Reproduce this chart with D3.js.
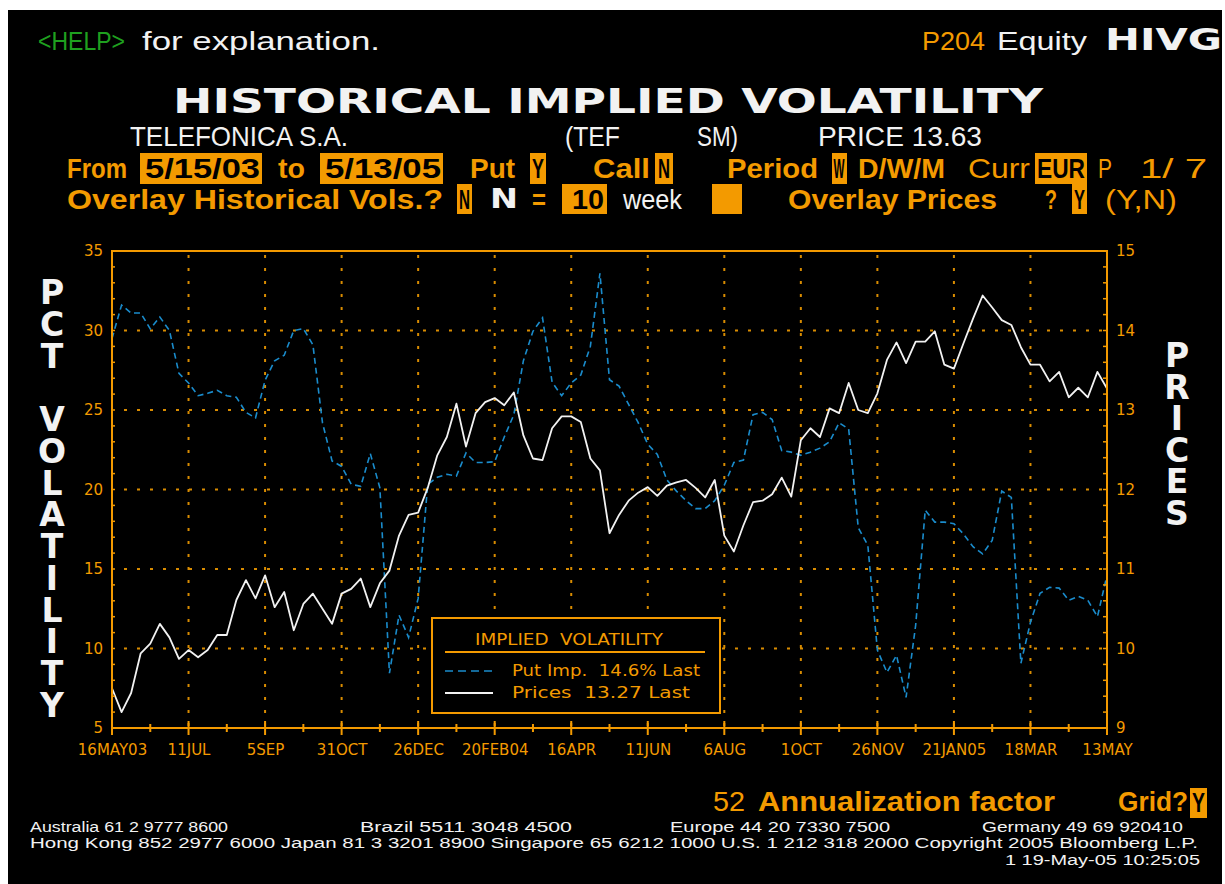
<!DOCTYPE html>
<html>
<head>
<meta charset="utf-8">
<script src="https://cdn.jsdelivr.net/npm/d3@7"></script>
<style>
  html, body { margin: 0; padding: 0; background: #fff; }
  svg { display: block; }
</style>
</head>
<body>
<script>
(function(){

    //weekly series, Fridays from 16 May 2003 to 13 May 2005
    var startDate = new Date(2003, 4, 16);

    //put implied volatility (pct)
    var putImpVol = [
        29.5, 31.6, 31.1, 31.1, 30.1, 30.85, 30.0, 27.3, 26.7, 25.9,
        26.05, 26.24, 25.9, 25.8, 24.85, 24.5, 26.87, 28.1, 28.44, 30.0,
        30.12, 29.1, 24.2, 21.8, 21.45, 20.33, 20.2, 22.26, 20.1, 8.45,
        12.1, 10.7, 13.15, 20.33, 20.77, 20.96, 20.85, 22.3, 21.7, 21.7,
        21.75, 23.3, 24.7, 28.1, 29.95, 30.8, 26.75, 25.9, 26.7, 27.2,
        29.0, 33.6, 26.9, 26.5, 25.35, 24.2, 22.85, 22.2, 20.6, 19.9,
        19.3, 18.8, 18.8, 19.3, 20.27, 21.7, 21.85, 24.7, 24.85, 24.4,
        22.45, 22.35, 22.15, 22.35, 22.6, 23.0, 24.2, 23.8, 17.6, 16.5,
        9.9, 8.5, 9.57, 6.93, 11.46, 18.7, 17.95, 17.95, 17.85, 17.2,
        16.4, 15.95, 16.8, 19.9, 19.5, 9.07, 11.65, 13.47, 13.85, 13.8,
        13.03, 13.28, 13.03, 12.0, 14.6
    ];

    //share price (EUR)
    var prices = [
        9.50, 9.20, 9.44, 9.94, 10.06, 10.31, 10.14, 9.87, 9.98, 9.89,
        9.98, 10.17, 10.17, 10.61, 10.86, 10.63, 10.92, 10.52, 10.71, 10.23,
        10.56, 10.69, 10.50, 10.31, 10.69, 10.75, 10.88, 10.52, 10.82, 10.98,
        11.42, 11.68, 11.71, 12.02, 12.43, 12.66, 13.08, 12.54, 12.96, 13.10,
        13.15, 13.06, 13.22, 12.68, 12.39, 12.37, 12.77, 12.92, 12.92, 12.85,
        12.39, 12.24, 11.45, 11.68, 11.86, 11.96, 12.03, 11.92, 12.05, 12.09,
        12.12, 12.02, 11.90, 12.12, 11.42, 11.22, 11.55, 11.84, 11.86, 11.94,
        12.15, 11.91, 12.62, 12.77, 12.66, 13.02, 12.96, 13.34, 13.00, 12.96,
        13.21, 13.63, 13.85, 13.59, 13.86, 13.86, 13.99, 13.57, 13.52, 13.84,
        14.15, 14.44, 14.29, 14.13, 14.07, 13.79, 13.57, 13.57, 13.36, 13.48,
        13.16, 13.28, 13.16, 13.48, 13.27
    ];

    var tickLabels = ["16MAY03", "11JUL", "5SEP", "31OCT", "26DEC", "20FEB04", "16APR",
                      "11JUN", "6AUG", "1OCT", "26NOV", "21JAN05", "18MAR", "13MAY"];
    var volTicks = [5, 10, 15, 20, 25, 30, 35];
    var priceTicks = [9, 10, 11, 12, 13, 14, 15];

    //colours and fonts
    var ORANGE = "#f39a00",
        GRID = "#d98c00",
        BLUE = "#1a8ccc",
        WHITE = "#f2f2f2",
        GREEN = "#1fa01f";
    var NARROW = "'Liberation Sans', Arial, sans-serif",
        WIDE = "'DejaVu Sans', Verdana, sans-serif";

    var W = 1225, H = 884;

    var svg = d3.select("body")
        .append("svg")
        .attr("width", W)
        .attr("height", H);

    svg.append("rect").attr("width", W).attr("height", H).attr("fill", "#fff");
    svg.append("rect").attr("x", 8).attr("y", 10).attr("width", 1214).attr("height", 874).attr("fill", "#000");

    //text helper: o = {c colour, s size, w width, f family, b bold, a anchor}
    function txt(x, y, s, o){
        var t = svg.append("text")
            .attr("x", x)
            .attr("y", y)
            .attr("fill", o.c || ORANGE)
            .attr("font-size", o.s || 28)
            .attr("font-family", o.f || NARROW)
            .attr("font-weight", o.b ? "bold" : "normal")
            .attr("text-anchor", o.a || "start")
            .style("white-space", "pre")
            .text(s);
        if (o.w) t.attr("textLength", o.w).attr("lengthAdjust", "spacingAndGlyphs");
        return t;
    }

    function box(x, y, w, h){
        svg.append("rect").attr("x", x).attr("y", y).attr("width", w).attr("height", h).attr("fill", ORANGE);
    }

    //header
    txt(38, 50, "<HELP>", {c: GREEN, s: 26, w: 87});
    txt(142, 50, "for explanation.", {c: WHITE, s: 26, w: 238});
    txt(922, 50, "P204", {c: ORANGE, s: 26, w: 63});
    txt(997, 50, "Equity", {c: WHITE, s: 26, w: 90});
    txt(1105, 50, "HIVG", {c: WHITE, s: 30, f: WIDE, b: true, w: 117});

    txt(173, 113, "HISTORICAL IMPLIED VOLATILITY", {c: WHITE, s: 34, f: WIDE, b: true, w: 870});

    txt(130, 146, "TELEFONICA S.A.", {c: WHITE, w: 218});
    txt(565, 146, "(TEF", {c: WHITE, w: 55});
    txt(697, 146, "SM)", {c: WHITE, w: 41});
    txt(818, 146, "PRICE 13.63", {c: WHITE, w: 164});

    //row 3
    txt(67, 178, "From", {b: true, w: 60});
    box(140, 153, 122, 31); txt(145, 178, "5/15/03", {c: "#000", b: true, w: 115});
    txt(278, 178, "to", {b: true, w: 27});
    box(320, 153, 123, 31); txt(325, 178, "5/13/05", {c: "#000", b: true, w: 116});
    txt(470, 178, "Put", {b: true, w: 45});
    box(530, 153, 16, 31); txt(532, 178, "Y", {c: "#000", b: true, w: 12});
    txt(593, 178, "Call", {b: true, w: 57});
    box(655, 153, 18, 31); txt(658, 178, "N", {c: "#000", b: true, w: 12});
    txt(727, 178, "Period", {b: true, w: 91});
    box(832, 153, 15, 31); txt(833.5, 178, "W", {c: "#000", b: true, w: 11});
    txt(858, 178, "D/W/M", {b: true, w: 87});
    txt(968, 178, "Curr", {w: 62});
    box(1035, 153, 52, 31); txt(1037, 178, "EUR", {c: "#000", b: true, w: 48});
    txt(1098, 178, "P", {w: 14});
    txt(1140, 178, "1/ 7", {w: 67});

    //row 4
    txt(67, 209, "Overlay Historical Vols.?", {b: true, w: 376});
    box(457, 184, 15, 30); txt(459, 209, "N", {c: "#000", b: true, w: 11});
    txt(490, 208, "N", {c: WHITE, s: 26, f: WIDE, b: true, w: 28});
    txt(532, 209, "=", {b: true, w: 14});
    box(562, 184, 45, 30); txt(572, 209, "10", {c: "#000", b: true, w: 32});
    txt(623, 209, "week", {c: WHITE, w: 59});
    box(712, 184, 30, 30);
    txt(788, 209, "Overlay Prices", {b: true, w: 209});
    txt(1045, 209, "?", {b: true, w: 12});
    box(1072, 184, 15, 30); txt(1074, 209, "Y", {c: "#000", b: true, w: 11});
    txt(1105, 209, "(Y,N)", {w: 72});

    //plot frame
    var left = 112, right = 1107, top = 251, bottom = 728;

    var dates = putImpVol.map(function(d, i){
        return d3.timeDay.offset(startDate, 7 * i);
    });
    var tickDates = tickLabels.map(function(d, i){ return dates[i * 8]; });
    var minorDates = tickDates.slice(0, -1).map(function(d, i){ return dates[i * 8 + 4]; });

    var x = d3.scaleTime().domain([dates[0], dates[dates.length - 1]]).range([left, right]);
    var yVol = d3.scaleLinear().domain([5, 35]).range([bottom, top]);
    var yPx = d3.scaleLinear().domain([9, 15]).range([bottom, top]);

    //dotted grid
    var grid = svg.append("g")
        .attr("stroke", GRID)
        .attr("stroke-width", 2)
        .attr("stroke-dasharray", "3,10");
    grid.selectAll(".vgrid")
        .data(tickDates.slice(1, -1))
        .enter()
        .append("line")
        .attr("x1", function(d){ return x(d); })
        .attr("x2", function(d){ return x(d); })
        .attr("y1", top + 4)
        .attr("y2", bottom);
    grid.selectAll(".hgrid")
        .data(volTicks.slice(1, -1))
        .enter()
        .append("line")
        .attr("x1", left + 12)
        .attr("x2", right)
        .attr("y1", function(d){ return yVol(d); })
        .attr("y2", function(d){ return yVol(d); });

    //series
    var volLine = d3.line()
        .x(function(d, i){ return x(dates[i]); })
        .y(function(d){ return yVol(d); });
    var priceLine = d3.line()
        .x(function(d, i){ return x(dates[i]); })
        .y(function(d){ return yPx(d); });

    svg.append("path")
        .datum(putImpVol)
        .attr("d", volLine)
        .attr("fill", "none")
        .attr("stroke", BLUE)
        .attr("stroke-width", 1.6)
        .attr("stroke-dasharray", "6,4");

    svg.append("path")
        .datum(prices)
        .attr("d", priceLine)
        .attr("fill", "none")
        .attr("stroke", WHITE)
        .attr("stroke-width", 1.8)
        .attr("stroke-linejoin", "round");

    //frame
    svg.append("rect")
        .attr("x", left)
        .attr("y", top)
        .attr("width", right - left)
        .attr("height", bottom - top)
        .attr("fill", "none")
        .attr("stroke", ORANGE)
        .attr("stroke-width", 2);

    //minor ticks on the axes
    var ticks = svg.append("g").attr("stroke", ORANGE).attr("stroke-width", 1.5);
    ticks.selectAll(".lt")
        .data(yVol.ticks(30))
        .enter()
        .append("line")
        .attr("x1", left)
        .attr("x2", left + 3)
        .attr("y1", function(d){ return yVol(d); })
        .attr("y2", function(d){ return yVol(d); });
    ticks.selectAll(".rt")
        .data(yPx.ticks(30))
        .enter()
        .append("line")
        .attr("x1", right - 4)
        .attr("x2", right)
        .attr("y1", function(d){ return yPx(d); })
        .attr("y2", function(d){ return yPx(d); });
    ticks.selectAll(".bt")
        .data(tickDates)
        .enter()
        .append("line")
        .attr("stroke-width", 2)
        .attr("x1", function(d){ return x(d); })
        .attr("x2", function(d){ return x(d); })
        .attr("y1", bottom - 7)
        .attr("y2", bottom + 7);
    ticks.selectAll(".bm")
        .data(minorDates)
        .enter()
        .append("line")
        .attr("stroke-width", 2)
        .attr("x1", function(d){ return x(d); })
        .attr("x2", function(d){ return x(d); })
        .attr("y1", bottom - 4)
        .attr("y2", bottom + 4);

    //axis labels
    function styleAxis(g){
        g.select(".domain").remove();
        g.selectAll("line").remove();
        g.selectAll("text")
            .attr("fill", ORANGE)
            .attr("font-family", WIDE)
            .attr("font-size", 15);
    }

    svg.append("g")
        .attr("transform", "translate(" + left + ",0)")
        .call(d3.axisLeft(yVol).tickValues(volTicks).tickSize(0).tickPadding(9).tickFormat(d3.format("d")))
        .call(styleAxis);

    svg.append("g")
        .attr("transform", "translate(" + right + ",0)")
        .call(d3.axisRight(yPx).tickValues(priceTicks).tickSize(0).tickPadding(9).tickFormat(d3.format("d")))
        .call(styleAxis);

    svg.append("g")
        .attr("transform", "translate(0," + bottom + ")")
        .call(d3.axisBottom(x).tickValues(tickDates).tickSize(0).tickPadding(16)
            .tickFormat(function(d, i){ return tickLabels[i]; }))
        .call(styleAxis);

    //stacked axis titles, upright vertical text
    function stacked(cx, y0, word, len){
        svg.append("text")
            .attr("x", cx)
            .attr("y", y0)
            .attr("fill", WHITE)
            .attr("font-size", 33)
            .attr("font-family", WIDE)
            .attr("font-weight", "bold")
            .attr("textLength", len)
            .attr("lengthAdjust", "spacing")
            .style("writing-mode", "vertical-rl")
            .style("text-orientation", "upright")
            .style("white-space", "pre")
            .text(word);
    }
    stacked(52, 273, "PCT VOLATILITY", 452);
    stacked(1177, 336, "PRICES", 197);

    //legend
    svg.append("rect")
        .attr("x", 432).attr("y", 618)
        .attr("width", 288).attr("height", 95)
        .attr("fill", "#000")
        .attr("stroke", ORANGE)
        .attr("stroke-width", 2);
    txt(475, 645, "IMPLIED  VOLATILITY", {s: 15, f: WIDE, w: 188});
    svg.append("line").attr("x1", 445).attr("x2", 705).attr("y1", 652).attr("y2", 652)
        .attr("stroke", ORANGE).attr("stroke-width", 2);
    svg.append("line").attr("x1", 445).attr("x2", 493).attr("y1", 671).attr("y2", 671)
        .attr("stroke", BLUE).attr("stroke-width", 1.6).attr("stroke-dasharray", "8,5");
    txt(512, 676, "Put Imp.  " + putImpVol[putImpVol.length - 1].toFixed(1) + "% Last", {s: 15, f: WIDE, w: 188});
    svg.append("line").attr("x1", 445).attr("x2", 493).attr("y1", 693).attr("y2", 693)
        .attr("stroke", WHITE).attr("stroke-width", 2);
    txt(512, 698, "Prices  " + prices[prices.length - 1].toFixed(2) + " Last", {s: 15, f: WIDE, w: 178});

    //bottom line
    txt(713, 811, "52", {w: 32});
    txt(758, 811, "Annualization factor", {b: true, w: 297});
    txt(1118, 811, "Grid?", {b: true, w: 70});
    box(1190, 788, 17, 30); txt(1192, 812, "Y", {c: "#000", b: true, w: 13});

    //footer
    txt(30, 832, "Australia 61 2 9777 8600", {c: WHITE, s: 14, w: 198});
    txt(360, 832, "Brazil 5511 3048 4500", {c: WHITE, s: 14, w: 212});
    txt(670, 832, "Europe 44 20 7330 7500", {c: WHITE, s: 14, w: 220});
    txt(982, 832, "Germany 49 69 920410", {c: WHITE, s: 14, w: 201});
    txt(30, 848, "Hong Kong 852 2977 6000 Japan 81 3 3201 8900 Singapore 65 6212 1000 U.S. 1 212 318 2000 Copyright 2005 Bloomberg L.P.", {c: WHITE, s: 14, w: 1168});
    txt(1005, 865, "1 19-May-05 10:25:05", {c: WHITE, s: 14, w: 195});

})();
</script>
</body>
</html>
